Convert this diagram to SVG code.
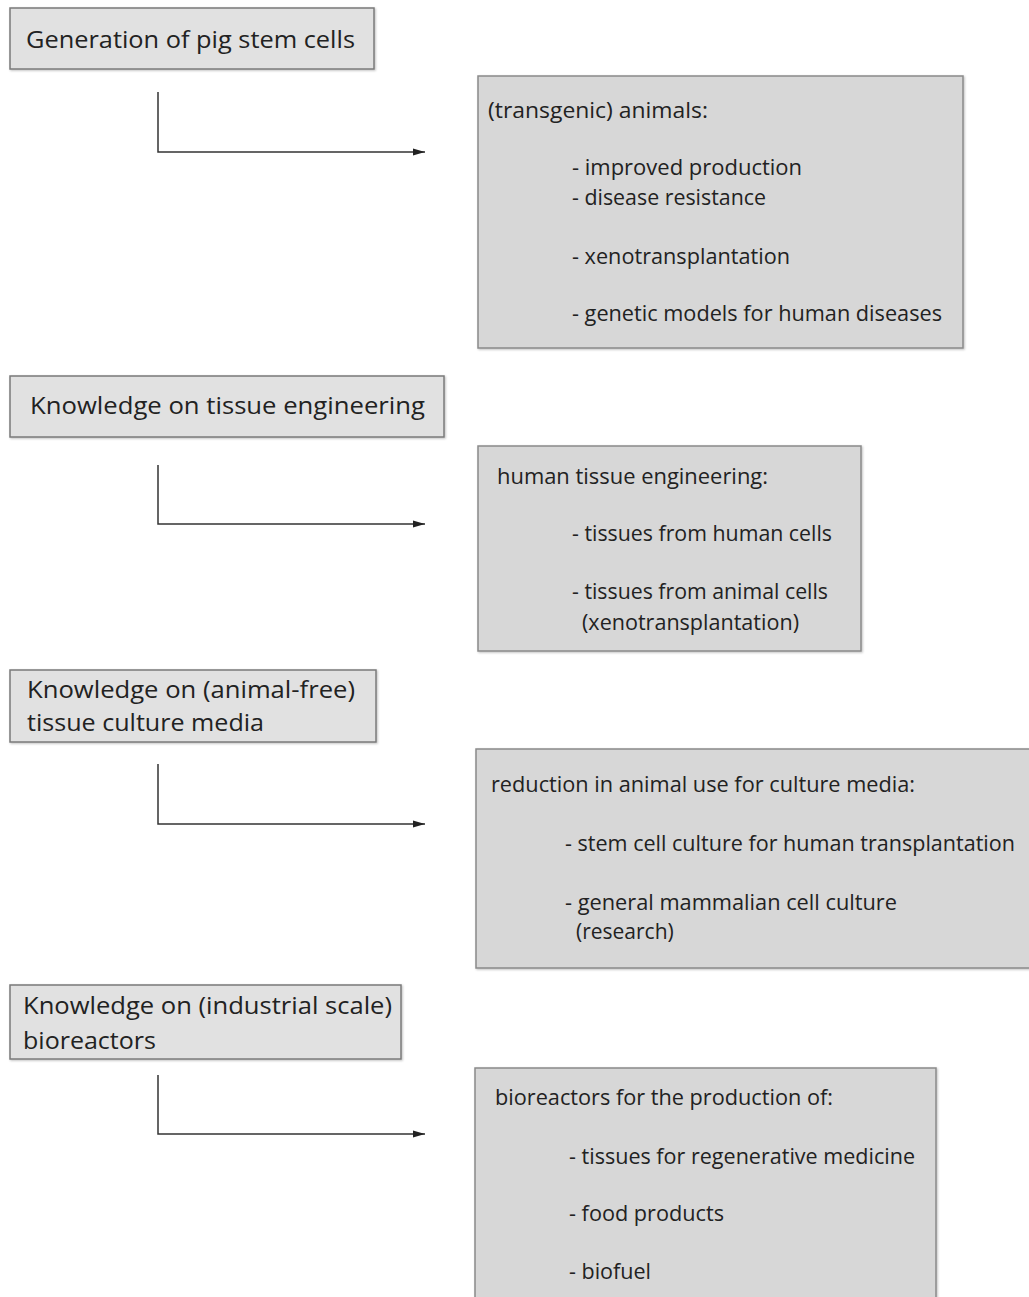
<svg xmlns="http://www.w3.org/2000/svg" width="1029" height="1297" viewBox="0 0 1029 1297">
<defs>
<marker id="ah" markerWidth="12" markerHeight="8" refX="12" refY="4" orient="auto" markerUnits="userSpaceOnUse">
<path d="M0,0.5 L12,4 L0,7.5 Z" fill="#222"/>
</marker>
<filter id="sh" x="-5%" y="-5%" width="110%" height="115%">
<feDropShadow dx="1" dy="1" stdDeviation="1" flood-color="#000" flood-opacity="0.25"/>
</filter>
</defs>
<style>
.src{fill:#e1e1e1;stroke:#7a7a7a;stroke-width:1.5;filter:url(#sh)}
.dst{fill:#d7d7d7;stroke:#8a8a8a;stroke-width:1.5;filter:url(#sh)}
.t1{font-family:"Open Sans","Liberation Sans",Arial,sans-serif;font-size:24px;fill:#222}
.t2{font-family:"Open Sans","Liberation Sans",Arial,sans-serif;font-size:21px;fill:#222}
.con{fill:none;stroke:#333;stroke-width:1.5;marker-end:url(#ah)}
</style>
<rect width="1029" height="1297" fill="#fff"/>
<g id="connectors">
<path class="con" d="M158,92 V152 H425"/>
<path class="con" d="M158,465 V524 H425"/>
<path class="con" d="M158,764 V824 H425"/>
<path class="con" d="M158,1075 V1134 H425"/>
</g>
<g id="n1"><rect class="src" x="10" y="8" width="364" height="61"/><text class="t1" x="26" y="48" textLength="329" lengthAdjust="spacingAndGlyphs">Generation of pig stem cells</text></g>
<g id="n2"><rect class="dst" x="478" y="76" width="485" height="272"/>
<text class="t2" x="488" y="118" textLength="220" lengthAdjust="spacingAndGlyphs">(transgenic) animals:</text>
<text class="t2" x="572" y="175" textLength="230" lengthAdjust="spacingAndGlyphs">- improved production</text>
<text class="t2" x="572" y="205" textLength="194" lengthAdjust="spacingAndGlyphs">- disease resistance</text>
<text class="t2" x="572" y="264" textLength="218" lengthAdjust="spacingAndGlyphs">- xenotransplantation</text>
<text class="t2" x="572" y="321" textLength="370" lengthAdjust="spacingAndGlyphs">- genetic models for human diseases</text></g>
<g id="n3"><rect class="src" x="10" y="376" width="434" height="61"/><text class="t1" x="30" y="414" textLength="395" lengthAdjust="spacingAndGlyphs">Knowledge on tissue engineering</text></g>
<g id="n4"><rect class="dst" x="478" y="446" width="383" height="205"/>
<text class="t2" x="497" y="484" textLength="271" lengthAdjust="spacingAndGlyphs">human tissue engineering:</text>
<text class="t2" x="572" y="541" textLength="260" lengthAdjust="spacingAndGlyphs">- tissues from human cells</text>
<text class="t2" x="572" y="599" textLength="256" lengthAdjust="spacingAndGlyphs">- tissues from animal cells</text>
<text class="t2" x="582" y="630" textLength="217" lengthAdjust="spacingAndGlyphs">(xenotransplantation)</text></g>
<g id="n5"><rect class="src" x="10" y="670" width="366" height="72"/><text class="t1" x="27" y="698" textLength="328" lengthAdjust="spacingAndGlyphs">Knowledge on (animal-free)</text><text class="t1" x="27" y="731" textLength="237" lengthAdjust="spacingAndGlyphs">tissue culture media</text></g>
<g id="n6"><rect class="dst" x="476" y="749" width="560" height="219"/>
<text class="t2" x="491" y="792" textLength="424" lengthAdjust="spacingAndGlyphs">reduction in animal use for culture media:</text>
<text class="t2" x="565" y="851" textLength="450" lengthAdjust="spacingAndGlyphs">- stem cell culture for human transplantation</text>
<text class="t2" x="565" y="910" textLength="332" lengthAdjust="spacingAndGlyphs">- general mammalian cell culture</text>
<text class="t2" x="576" y="939">(research)</text></g>
<g id="n7"><rect class="src" x="10" y="985" width="391" height="74"/><text class="t1" x="23" y="1014" textLength="369" lengthAdjust="spacingAndGlyphs">Knowledge on (industrial scale)</text><text class="t1" x="23" y="1049" textLength="133" lengthAdjust="spacingAndGlyphs">bioreactors</text></g>
<g id="n8"><rect class="dst" x="475" y="1068" width="461" height="240"/>
<text class="t2" x="495" y="1105" textLength="338" lengthAdjust="spacingAndGlyphs">bioreactors for the production of:</text>
<text class="t2" x="569" y="1164" textLength="346" lengthAdjust="spacingAndGlyphs">- tissues for regenerative medicine</text>
<text class="t2" x="569" y="1221" textLength="155" lengthAdjust="spacingAndGlyphs">- food products</text>
<text class="t2" x="569" y="1279" textLength="82" lengthAdjust="spacingAndGlyphs">- biofuel</text></g>
</svg>
